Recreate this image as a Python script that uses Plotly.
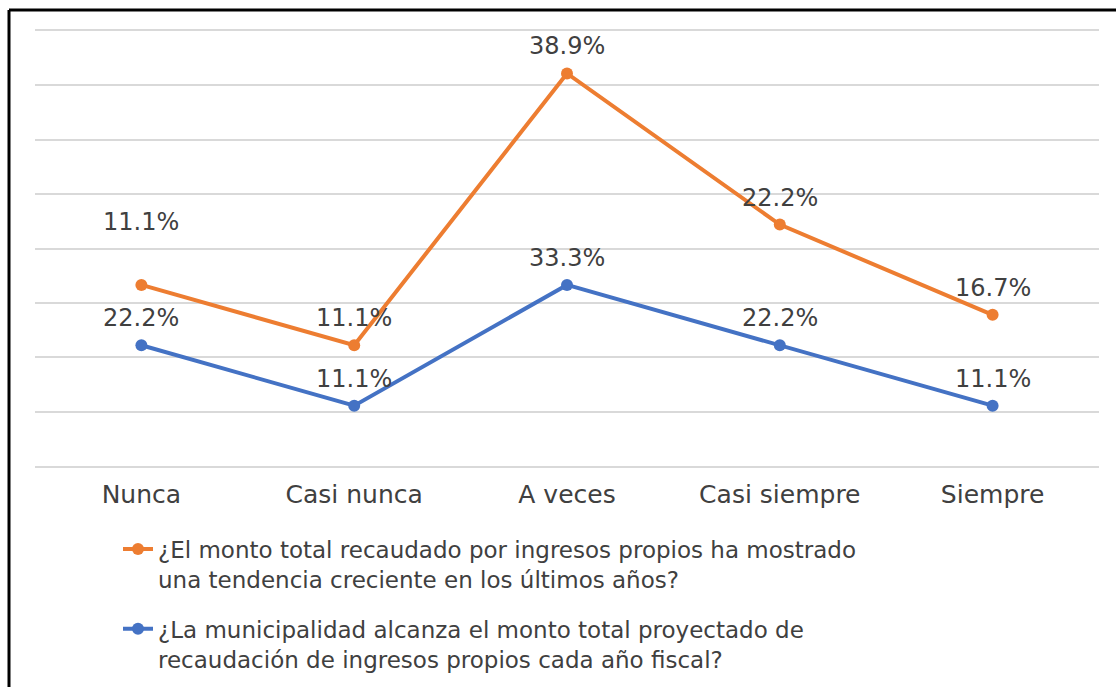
import plotly.graph_objects as go

categories = ["Nunca", "Casi nunca", "A veces", "Casi siempre", "Siempre"]
serie_creciente = [11.1, 11.1, 38.9, 22.2, 16.7]   # orange
serie_alcanza = [22.2, 11.1, 33.3, 22.2, 11.1]     # blue
name_creciente = "¿El monto total recaudado por ingresos propios ha mostrado<br>una tendencia creciente en los últimos años?"
name_alcanza = "¿La municipalidad alcanza el monto total proyectado de<br>recaudación de ingresos propios cada año fiscal?"

ORANGE = "#ED7D31"
BLUE = "#4472C4"
FONT = "DejaVu Sans"
TXT = "#404040"
GRID = "#D9D9D9"

def fmt(v):
    return f"{v:.1f}%"

fig = go.Figure()
fig.add_trace(go.Scatter(
    x=categories, y=serie_alcanza, name=name_alcanza, stackgroup="s", fill="none",
    mode="lines+markers", line=dict(color=BLUE, width=4), marker=dict(size=12, color=BLUE),
    legendrank=2, legendgroup="b",
))
fig.add_trace(go.Scatter(
    x=categories, y=serie_creciente, name=name_creciente, stackgroup="s", fill="none",
    mode="lines+markers", line=dict(color=ORANGE, width=4), marker=dict(size=12, color=ORANGE),
    legendrank=1, legendgroup="a",
))

# data labels (values of each series, placed at stacked positions)
for i, c in enumerate(categories):
    fig.add_annotation(x=c, y=serie_alcanza[i], text=fmt(serie_alcanza[i]), showarrow=False,
                       yshift=27, font=dict(family=FONT, size=24, color=TXT))
    fig.add_annotation(x=c, y=serie_alcanza[i] + serie_creciente[i], text=fmt(serie_creciente[i]),
                       showarrow=False, yshift=63 if i == 0 else 27,
                       font=dict(family=FONT, size=24, color=TXT))

W, H = 1116, 687
L, R, T, B = 35, 17, 31, 221
pw, ph = W - L - R, H - T - B
def px(x):
    return (x - L) / pw
def py(y):
    return (H - B - y) / ph

fig.add_shape(type="line", xref="paper", yref="paper", x0=px(9), x1=px(1120), y0=py(10), y1=py(10),
              line=dict(color="black", width=3))
fig.add_shape(type="line", xref="paper", yref="paper", x0=px(9), x1=px(9), y0=py(10), y1=py(700),
              line=dict(color="black", width=3))

fig.update_layout(
    width=W, height=H, margin=dict(l=L, r=R, t=T, b=B, autoexpand=False),
    paper_bgcolor="white", plot_bgcolor="white",
    font=dict(family=FONT, size=23, color=TXT),
    showlegend=True,
    legend=dict(orientation="v", x=px(118), xanchor="left", y=py(527.5), yanchor="top",
                valign="top", tracegroupgap=17, font=dict(family=FONT, size=23, color=TXT),
                bgcolor="rgba(0,0,0,0)"),
    xaxis=dict(showgrid=False, showline=True, mirror=True, linecolor=GRID, linewidth=1.5,
               zeroline=False, ticks="", automargin=False,
               ticklabelstandoff=5, tickfont=dict(family=FONT, size=25, color=TXT),
               range=[-0.5, 4.5]),
    yaxis=dict(range=[0, 80], dtick=10, showgrid=True, gridcolor=GRID, gridwidth=1.5,
               showticklabels=False, zeroline=False, showline=False, automargin=False),
)
fig.write_html("out.html", config={"displayModeBar": False},
               post_script="document.body.style.margin='0';")
